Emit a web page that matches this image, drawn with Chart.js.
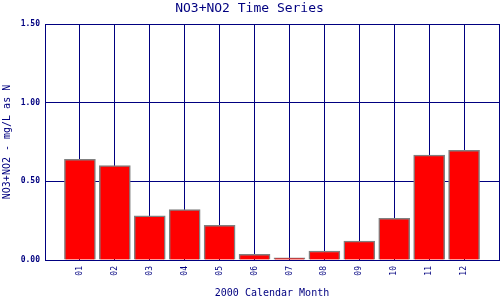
<!DOCTYPE html>
<html>
<head>
<meta charset="utf-8">
<script src="https://cdn.jsdelivr.net/npm/chart.js@4/dist/chart.umd.min.js"></script>
<style>
    html, body { margin: 0; padding: 0; background: #fff; }
    #wrap { width: 500px; height: 300px; }
</style>
</head>
<body>
<div id="wrap"><canvas id="chart"></canvas></div>
<script>
// data
const months = ["01", "02", "03", "04", "05", "06", "07", "08", "09", "10", "11", "12"];
const no3no2 = [0.64, 0.60, 0.28, 0.32, 0.22, 0.036, 0.013, 0.057, 0.12, 0.265, 0.667, 0.697];
const yTicks = [0, 0.5, 1.0, 1.5];

const navy = "#000080";
const mono = "'DejaVu Sans Mono', 'Liberation Mono', monospace";

// bars sit on a 0..13 linear axis, month i at x = i + 1
const points = months.map((m, i) => ({ x: i + 1, y: no3no2[i] }));

new Chart(document.getElementById("chart"), {
    type: "bar",
    data: {
        datasets: [{
            data: points,
            backgroundColor: "#ff0000",
            borderColor: "#808080",
            borderWidth: 1.5,
            barThickness: 31,
        }],
    },
    options: {
        responsive: true,
        maintainAspectRatio: false,
        animation: false,
        layout: { padding: { top: 0, right: 1, bottom: 0, left: 0 } },
        plugins: {
            legend: { display: false },
            tooltip: { enabled: false },
            title: {
                display: true,
                text: "NO3+NO2 Time Series",
                color: navy,
                font: { family: mono, size: 13, weight: "normal", lineHeight: "16px" },
                padding: { top: 1, bottom: 7 },
            },
        },
        scales: {
            x: {
                type: "linear",
                min: 0,
                max: months.length + 1,
                offset: false,
                afterFit: (s) => {
                    s.height = 40;
                    s.paddingLeft = 0;
                    s.paddingRight = 0;
                },
                border: { display: true, color: navy, width: 1 },
                grid: { offset: false, color: navy, lineWidth: 1, drawTicks: false },
                ticks: {
                    stepSize: 1,
                    autoSkip: false,
                    minRotation: 90,
                    maxRotation: 90,
                    padding: 6,
                    color: navy,
                    font: { family: mono, size: 8 },
                    callback: (v) => months[v - 1] || "",
                },
                title: {
                    display: true,
                    text: "2000 Calendar Month",
                    color: navy,
                    font: { family: mono, size: 10, lineHeight: "12px" },
                    padding: { top: 0, bottom: 1 },
                },
            },
            y: {
                min: yTicks[0],
                max: yTicks[yTicks.length - 1],
                afterFit: (s) => {
                    s.width = 45;
                    s.paddingTop = 0;
                    s.paddingBottom = 0;
                },
                afterBuildTicks: (s) => { s.ticks = yTicks.map((v) => ({ value: v })); },
                border: { display: true, color: navy, width: 1 },
                grid: { color: navy, lineWidth: 1, drawTicks: false },
                ticks: {
                    padding: 5,
                    color: navy,
                    font: { family: mono, size: 8, weight: "bold" },
                    callback: (v) => Number(v).toFixed(2),
                },
                title: {
                    display: true,
                    text: "NO3+NO2 - mg/L as N",
                    color: navy,
                    font: { family: mono, size: 10, lineHeight: "12px" },
                    padding: { top: 1, bottom: 0 },
                },
            },
        },
    },
});
</script>
</body>
</html>
